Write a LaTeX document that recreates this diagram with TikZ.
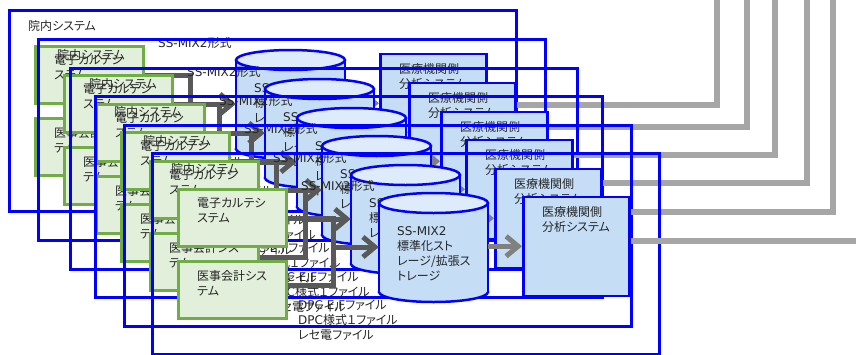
\documentclass[tikz,border=0pt]{standalone}
\usepackage{fontspec}
\setmainfont{Noto Sans CJK JP}[RawFeature=+palt]
\newfontfamily\lat{DejaVu Sans}
\usetikzlibrary{arrows.meta}
\definecolor{frameblue}{RGB}{0,0,255}
\definecolor{gfill}{RGB}{226,239,218}
\definecolor{gline}{RGB}{112,173,71}
\definecolor{cbody}{RGB}{197,222,245}
\definecolor{ctop}{RGB}{221,235,250}
\definecolor{dgrey}{RGB}{89,89,89}
\definecolor{mgrey}{RGB}{128,128,128}
\definecolor{lgrey}{RGB}{166,166,166}
\definecolor{txt}{RGB}{38,38,38}
\begin{document}
\begin{tikzpicture}[x=1pt,y=-1pt,
  every node/.style={font=\fontsize{12}{15}\selectfont, text=txt, inner sep=0pt},
  outerframe/.style={draw=frameblue, line width=2.5pt, minimum width=507pt, minimum height=201pt, anchor=north west},
  gbox/.style={draw=gline, fill=gfill, line width=2.5pt, minimum width=108pt, minimum height=57pt, anchor=north west},
  abox/.style={draw=frameblue, fill=cbody, line width=2.5pt, minimum width=106pt, minimum height=99pt, anchor=north west},
  lbl/.style={anchor=west},
  blk/.style={anchor=north west, align=left},
  dline/.style={draw=dgrey, line width=5pt},
  darr/.style={dline, -{Straight Barb[length=12pt,width=20pt]}},
  garr/.style={draw=mgrey, line width=5pt, -{Straight Barb[length=12pt,width=20pt]}},
  lline/.style={draw=lgrey, line width=5.5pt},
  cyl/.style={draw=frameblue, line width=2.5pt},
]
\useasboundingbox (0,0) rectangle (856,354);
\clip (0,0) rectangle (856,354);
\foreach \i/\fx/\fy/\gy/\gx in {0/8/9/105/717, 1/37/38/127/747, 2/69/67/155/775, 3/94/95/183/807, 4/123/124/212/833, 5/151/152/241/880} {
  \coordinate (gc-\i) at (\gx,\gy);
  \coordinate (gt-\i) at (\gx,-20);
  \begin{scope}[shift={(\fx,\fy)}]
    \node[outerframe] (fr-\i) at (0,0) {};
    \node[lbl] (in-\i) at (20,17) {院内システム};
    \node[lbl] (ss-\i) at (150,34) {{\lat SS-MIX2}形式};
    \node[gbox] (g1-\i) at (26,36) {};
    \node[blk] (t1-\i) at (46,46) {電子カルテシ\\ステム};
    \node[gbox] (g2-\i) at (26,108) {};
    \node[blk] (t2-\i) at (46,118) {医事会計シス\\テム};
    \node[blk] (fl-\i) at (147,148) {{\lat DPC E,F}ファイル\\{\lat DPC}様式１ファイル\\レセ電ファイル};
    \coordinate (j-\i) at (182,95);
    \draw[dline] (g1-\i.east |- 0,66) -| (j-\i) |- (g2-\i.east |- 0,133);
    \filldraw[cyl, fill=cbody] (282.5,140) ellipse [x radius=54.5, y radius=10];
    \fill[cbody] (228,51) rectangle (337,140);
    \draw[cyl] (228,51) -- (228,140) (337,51) -- (337,140);
    \filldraw[cyl, fill=ctop] (282.5,51) ellipse [x radius=54.5, y radius=10];
    \node[minimum width=109pt, minimum height=109pt] (cy-\i) at (282.5,95.5) {};
    \node[blk] (ct-\i) at (246,74) {{\lat SS-MIX2}\\標準化スト\\レージ/拡張ス\\トレージ};
    \draw[darr] (j-\i) -- (j-\i -| cy-\i.west);
    \node[abox] (an-\i) at (371,43.5) {};
    \node[blk] (at-\i) at (391,54) {医療機関側\\分析システム};
    \draw[garr] (cy-\i.east |- an-\i.west) -- (an-\i.west);
  \end{scope}
  \draw[lline] (an-\i.east |- gc-\i) -- (gc-\i) -- (gt-\i);
}
\end{tikzpicture}
\end{document}
